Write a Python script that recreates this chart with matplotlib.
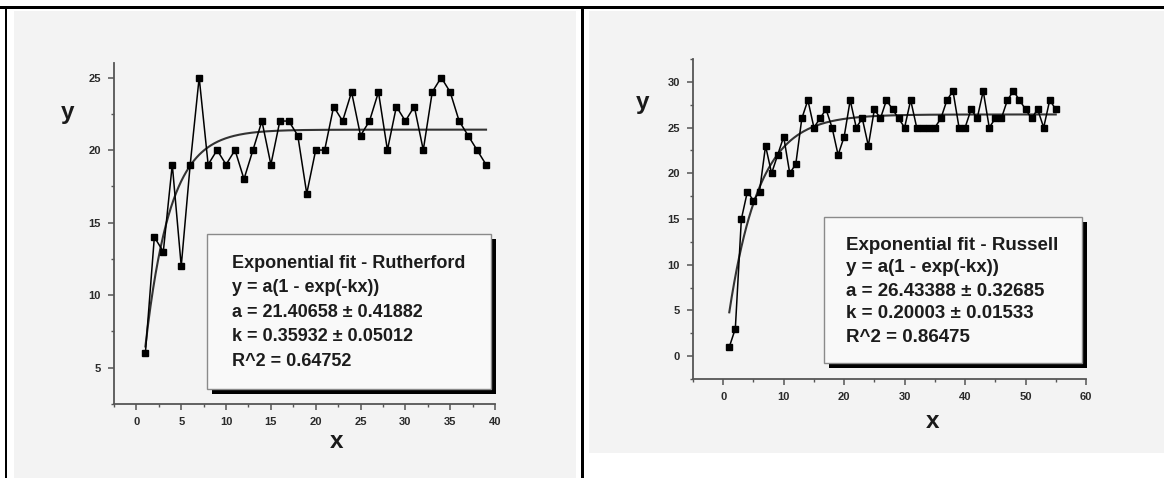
import numpy as np
import matplotlib
matplotlib.use("Agg")
import matplotlib.pyplot as plt
from matplotlib.patches import Rectangle
from matplotlib.ticker import MultipleLocator

# ---------------- data ----------------
ruth_x = list(range(1, 40))
ruth_y = [6, 14, 13, 19, 12, 19, 25, 19, 20, 19, 20, 18, 20, 22, 19, 22, 22, 21, 17, 20,
          20, 23, 22, 24, 21, 22, 24, 20, 23, 22, 23, 20, 24, 25, 24, 22, 21, 20, 19]
ruth_a, ruth_k = 21.40658, 0.35932
ruth_lines = ["Exponential fit - Rutherford", "y = a(1 - exp(-kx))",
              "a = 21.40658 \u00b1 0.41882", "k = 0.35932 \u00b1 0.05012", "R^2 = 0.64752"]

russ_x = list(range(1, 56))
russ_y = [1, 3, 15, 18, 17, 18, 23, 20, 22, 24, 20, 21, 26, 28, 25, 26, 27, 25, 22, 24,
          28, 25, 26, 23, 27, 26, 28, 27, 26, 25, 28, 25, 25, 25, 25, 26, 28, 29, 25, 25,
          27, 26, 29, 25, 26, 26, 28, 29, 28, 27, 26, 27, 25, 28, 27]
russ_a, russ_k = 26.43388, 0.20003
russ_lines = ["Exponential fit - Russell", "y = a(1 - exp(-kx))",
              "a = 26.43388 \u00b1 0.32685", "k = 0.20003 \u00b1 0.01533", "R^2 = 0.86475"]

# ---------------- layout helpers ----------------
W, H = 1164, 478
FONT = "Liberation Sans"
plt.rcParams["font.family"] = [FONT, "DejaVu Sans"]

fig = plt.figure(figsize=(W / 100, H / 100), dpi=100)
fig.patch.set_facecolor("white")


def fx(px):
    return px / W


def fy(py):
    return 1 - py / H


def rect_px(x0, y0, x1, y1, **kw):
    r = Rectangle((fx(x0), fy(y1)), fx(x1) - fx(x0), fy(y0) - fy(y1),
                  transform=fig.transFigure, **kw)
    fig.add_artist(r)
    return r


# panel backgrounds
rect_px(14, 11, 576, 478, facecolor="#f3f3f3", edgecolor="none", zorder=-10)
rect_px(589, 11, 1164, 453, facecolor="#f3f3f3", edgecolor="none", zorder=-10)
# outer black frame lines
rect_px(0, 6, 1164, 8.5, facecolor="black", edgecolor="none", zorder=-5)
rect_px(4.5, 6, 7, 478, facecolor="black", edgecolor="none", zorder=-5)
rect_px(581, 6, 583.5, 478, facecolor="black", edgecolor="none", zorder=-5)


def make_axes(box, xlim, ylim, xmaj, xmin, ymaj, ymin):
    x0, y0, x1, y1 = box
    ax = fig.add_axes([fx(x0), fy(y1), fx(x1) - fx(x0), fy(y0) - fy(y1)])
    ax.set_facecolor("none")
    ax.set_xlim(*xlim)
    ax.set_ylim(*ylim)
    for s in ("top", "right"):
        ax.spines[s].set_visible(False)
    for s in ("left", "bottom"):
        ax.spines[s].set_color("#555555")
        ax.spines[s].set_linewidth(1.3)
    ax.xaxis.set_major_locator(MultipleLocator(xmaj))
    ax.xaxis.set_minor_locator(MultipleLocator(xmin))
    ax.yaxis.set_major_locator(MultipleLocator(ymaj))
    ax.yaxis.set_minor_locator(MultipleLocator(ymin))
    ax.tick_params(which="major", direction="out", length=4.5, width=1.1,
                   color="#555555", labelsize=8, labelcolor="#2a2a2a", pad=5)
    ax.tick_params(which="minor", direction="out", length=2.5, width=1.0,
                   color="#555555")
    for lab in ax.get_xticklabels() + ax.get_yticklabels():
        lab.set_fontweight("bold")
    return ax


def draw_series(ax, xs, ys, a, k):
    ax.plot(xs, ys, color="black", lw=1.1, marker="s", ms=4.4, mfc="black",
            mec="black", zorder=3, clip_on=False)
    xf = np.linspace(xs[0], xs[-1], 400)
    ax.plot(xf, a * (1 - np.exp(-k * xf)), color="#333333", lw=1.5, zorder=2)


def text_box(x0, y0, x1, y1, tx, ty0, dy, lines, fs):
    rect_px(x0 + 5, y0 + 5, x1 + 5, y1 + 5, facecolor="black", edgecolor="none", zorder=5)
    rect_px(x0, y0, x1, y1, facecolor="#f9f9f9", edgecolor="#8a8a8a", lw=1.0, zorder=6)
    for i, line in enumerate(lines):
        fig.text(fx(tx), fy(ty0 + i * dy), line, ha="left", va="center",
                 fontsize=fs, fontweight="bold", color="#1c1c1c", zorder=7)


# ---------------- left panel: Rutherford ----------------
axL = make_axes((114, 63, 495, 404), (-2.5, 40), (2.5, 26), 5, 2.5, 5, 2.5)
draw_series(axL, ruth_x, ruth_y, ruth_a, ruth_k)
fig.text(fx(68), fy(113), "y", ha="center", va="center", fontsize=17.5,
         fontweight="bold", color="#1a1a1a")
fig.text(fx(337), fy(442), "x", ha="center", va="center", fontsize=17.5,
         fontweight="bold", color="#1a1a1a")
text_box(207, 234, 491, 389, 232.5, 263, 24.6, ruth_lines, 13.0)

# ---------------- right panel: Russell ----------------
axR = make_axes((693, 59, 1086, 379), (-5, 60), (-2.5, 32.5), 10, 5, 5, 2.5)
draw_series(axR, russ_x, russ_y, russ_a, russ_k)
fig.text(fx(643), fy(102), "y", ha="center", va="center", fontsize=17.5,
         fontweight="bold", color="#1a1a1a")
fig.text(fx(933), fy(421), "x", ha="center", va="center", fontsize=17.5,
         fontweight="bold", color="#1a1a1a")
text_box(824, 217, 1082, 363, 846.5, 245, 23.0, russ_lines, 13.5)

fig.savefig("out.png", dpi=100, facecolor="white")
